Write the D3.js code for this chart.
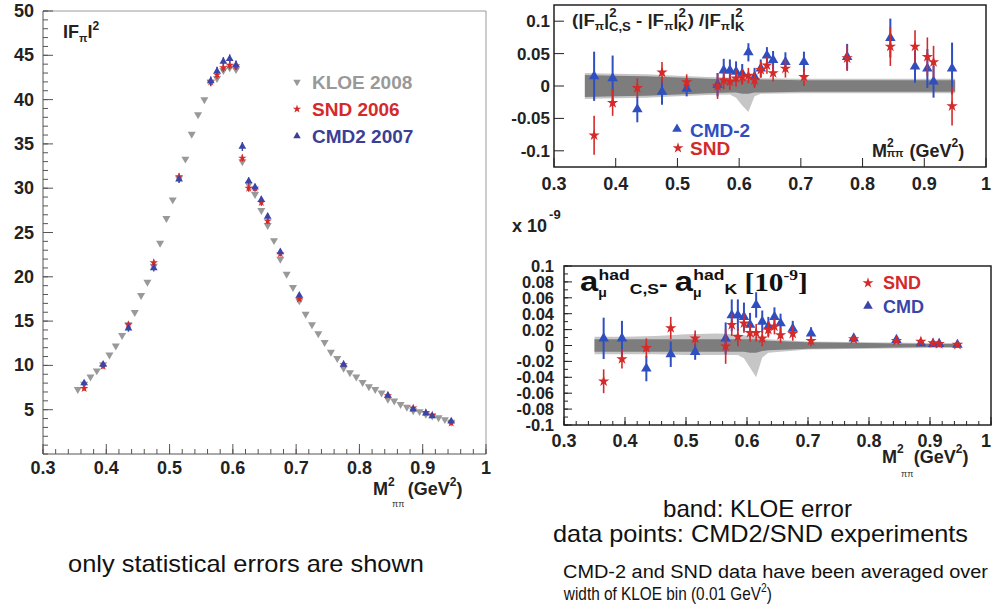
<!DOCTYPE html>
<html><head><meta charset="utf-8">
<script src="https://cdn.jsdelivr.net/npm/d3@7"></script>
<style>body{margin:0;background:#fff}svg{display:block}text{font-family:"Liberation Sans",Arial,sans-serif}</style>
</head><body><svg id="c" width="992" height="610"></svg>
<script>
// ---------- DATA ----------
const kloeM = [0.355,0.365,0.375,0.385,0.395,0.405,0.415,0.425,0.435,0.445,0.455,0.465,0.475,0.485,0.495,0.505,0.515,0.525,0.535,0.545,0.555,0.565,0.575,0.585,0.595,0.605,0.615,0.625,0.635,0.645,0.655,0.665,0.675,0.685,0.695,0.705,0.715,0.725,0.735,0.745,0.755,0.765,0.775,0.785,0.795,0.805,0.815,0.825,0.835,0.845,0.855,0.865,0.875,0.885,0.895,0.905,0.915,0.925,0.935,0.945];
const kloeF2 = [7.3,7.9,8.7,9.4,10.1,11.2,12.2,13.4,14.6,16.0,17.9,19.4,21.2,23.8,26.6,28.7,31.1,33.3,36.1,38.3,40.0,42.0,42.4,43.3,43.6,43.4,33.0,30.4,29.3,27.5,25.8,24.1,22.0,20.3,18.8,17.3,15.8,14.6,13.6,12.6,11.5,10.8,9.7,9.2,8.7,8.1,7.6,7.3,6.9,6.2,6.0,5.6,5.3,4.9,4.8,4.5,4.3,4.1,3.9,3.6];

const binM = [0.365,0.395,0.435,0.475,0.515,0.565,0.575,0.585,0.595,0.605,0.615,0.625,0.635,0.645,0.655,0.675,0.705,0.775,0.845,0.885,0.905,0.915,0.945];
const cmdF2 = [8.0,10.1,14.2,21.0,31.0,42.1,43.2,44.3,44.6,43.9,34.7,30.8,30.1,28.7,26.8,22.8,17.9,10.1,6.6,5.05,4.6,4.3,3.7];
const cmdF2Err = [0.3,0.3,0.4,0.4,0.4,0.5,0.5,0.5,0.5,0.5,0.5,0.4,0.4,0.4,0.4,0.3,0.3,0.2,0.15,0.1,0.1,0.1,0.1];
const sndF2 = [7.4,9.9,14.6,21.6,31.3,42.0,42.8,43.6,43.9,43.8,33.4,30.0,30.0,28.4,26.3,22.6,17.5,10.1,6.6,5.2,4.7,4.4,3.5];
const sndF2Err = [0.25,0.25,0.35,0.35,0.4,0.5,0.5,0.5,0.5,0.5,0.4,0.4,0.4,0.4,0.35,0.3,0.25,0.2,0.15,0.1,0.1,0.1,0.1];

const cmdRel = [0.015,0.012,-0.036,-0.009,-0.004,0.002,0.024,0.024,0.022,0.019,0.052,0.014,0.027,0.047,0.040,0.037,0.037,0.045,0.074,0.030,0.027,0.007,0.027];
const cmdRelErr = [0.038,0.035,0.020,0.020,0.012,0.018,0.018,0.017,0.016,0.015,0.014,0.014,0.014,0.013,0.014,0.015,0.016,0.020,0.030,0.025,0.030,0.025,0.040];
const sndRel = [-0.076,-0.026,-0.003,0.021,0.006,0.000,0.009,0.007,0.012,0.014,0.016,0.009,0.025,0.032,0.020,0.027,0.014,0.043,0.061,0.061,0.045,0.037,-0.031];
const sndRelErr = [0.030,0.020,0.015,0.016,0.012,0.020,0.014,0.013,0.013,0.012,0.012,0.012,0.012,0.013,0.013,0.014,0.014,0.020,0.030,0.025,0.030,0.025,0.030];

const cmdAmu = [0.009,0.009,-0.029,-0.011,-0.008,0.009,0.038,0.038,0.036,0.026,0.051,0.030,0.024,0.036,0.028,0.021,0.015,0.009,0.007,0.003,0.002,0.002,0.001];
const cmdAmuErr = [0.026,0.022,0.016,0.016,0.010,0.020,0.020,0.020,0.018,0.015,0.016,0.014,0.012,0.012,0.012,0.010,0.008,0.004,0.003,0.002,0.002,0.002,0.002];
const sndAmu = [-0.045,-0.017,-0.003,0.022,0.009,-0.001,0.026,0.011,0.028,0.016,0.016,0.009,0.020,0.024,0.013,0.015,0.006,0.008,0.006,0.005,0.003,0.002,0.001];
const sndAmuErr = [0.015,0.012,0.012,0.014,0.010,0.022,0.014,0.012,0.012,0.011,0.011,0.010,0.010,0.010,0.010,0.009,0.007,0.004,0.003,0.002,0.002,0.002,0.002];

// KLOE error bands
const bandM = [0.35,0.40,0.45,0.50,0.55,0.585,0.595,0.605,0.615,0.625,0.635,0.70,0.80,0.90,0.95];
const relDarkLo = [-0.017,-0.016,-0.015,-0.013,-0.011,-0.010,-0.010,-0.012,-0.012,-0.010,-0.010,-0.009,-0.009,-0.009,-0.009];
const relDarkHi = [0.017,0.016,0.015,0.013,0.011,0.010,0.010,0.010,0.010,0.010,0.010,0.009,0.009,0.009,0.009];
const relLightLo = [-0.020,-0.019,-0.018,-0.016,-0.014,-0.013,-0.018,-0.030,-0.040,-0.016,-0.012,-0.011,-0.011,-0.011,-0.011];
const relLightHi = [0.020,0.019,0.018,0.016,0.014,0.013,0.013,0.014,0.014,0.013,0.012,0.011,0.011,0.011,0.011];
const amuDarkLo = [-0.008,-0.008,-0.008,-0.008,-0.008,-0.008,-0.008,-0.009,-0.009,-0.007,-0.006,-0.004,-0.003,-0.002,-0.002];
const amuDarkHi = [0.008,0.008,0.008,0.008,0.008,0.008,0.008,0.008,0.008,0.007,0.006,0.004,0.003,0.002,0.002];
const amuLightLo = [-0.011,-0.011,-0.011,-0.012,-0.012,-0.012,-0.016,-0.028,-0.040,-0.015,-0.009,-0.005,-0.004,-0.003,-0.003];
const amuLightHi = [0.011,0.011,0.012,0.014,0.015,0.014,0.013,0.012,0.011,0.009,0.008,0.005,0.004,0.003,0.003];

const xTicks = [0.3,0.4,0.5,0.6,0.7,0.8,0.9,1];
const xTickLabels = ["0.3","0.4","0.5","0.6","0.7","0.8","0.9","1"];
const leftYTicks = [5,10,15,20,25,30,35,40,45,50];
const relYTicks = [-0.1,-0.05,0,0.05,0.1];
const relYLabels = ["-0.1","-0.05","0","0.05","0.1"];
const amuYTicks = [-0.1,-0.08,-0.06,-0.04,-0.02,0,0.02,0.04,0.06,0.08,0.1];
const amuYLabels = ["-0.1","-0.08","-0.06","-0.04","-0.02","0","0.02","0.04","0.06","0.08","0.1"];

// ---------- DRAW ----------
const svg = d3.select("#c");
const C_KLOE = "#999999", C_SND = "#d42a2a", C_CMD = "#3a45a8", C_CMD2 = "#2f4fc0";
const triUp = d3.symbol().type(d3.symbolTriangle);
const star = d3.symbol().type(d3.symbolStar);

function rich(g, x, y, segs, attrs) {
  const t = g.append("text").attr("x", x).attr("y", y);
  for (const k in (attrs||{})) t.attr(k, attrs[k]);
  let prev = 0;
  segs.forEach(s => {
    const b = s.b || 0;
    const ts = t.append("tspan").text(s.t).attr("font-size", s.s).attr("dy", -(b - prev));
    if (s.dx) ts.attr("dx", s.dx);
    if (s.ff) ts.attr("font-family", s.ff);
    if (s.fw) ts.attr("font-weight", s.fw);
    prev = b;
  });
  return t;
}
function fitX(t, x0, x1) {
  const bb = t.node().getBBox();
  const k = (x1 - x0) / bb.width;
  t.attr("transform", `translate(${x0},0) scale(${k},1) translate(${-bb.x},0)`);
}
function frame(g, x, y, stroke, sw) {
  g.append("rect").attr("x", x.range()[0]).attr("y", y.range()[1])
    .attr("width", x.range()[1]-x.range()[0]).attr("height", y.range()[0]-y.range()[1])
    .attr("fill","none").attr("stroke", stroke).attr("stroke-width", sw);
}
function ticksX(g, x, y, vals, len, col) {
  g.selectAll(null).data(vals).join("line")
    .attr("x1", d=>x(d)).attr("x2", d=>x(d)).attr("y1", y.range()[0]).attr("y2", y.range()[0]-len)
    .attr("stroke", col).attr("stroke-width", 1);
}
function ticksY(g, x, y, vals, len, col) {
  g.selectAll(null).data(vals).join("line")
    .attr("y1", d=>y(d)).attr("y2", d=>y(d)).attr("x1", x.range()[0]).attr("x2", x.range()[0]+len)
    .attr("stroke", col).attr("stroke-width", 1);
}
function errBars(g, x, y, ms, vs, es, col, w) {
  g.selectAll(null).data(ms).join("line")
    .attr("x1", (d)=>x(d)).attr("x2", d=>x(d))
    .attr("y1", (d,i)=>y(vs[i]-es[i])).attr("y2", (d,i)=>y(vs[i]+es[i]))
    .attr("stroke", col).attr("stroke-width", w);
}
function marks(g, x, y, ms, vs, sym, size, col, rot) {
  g.selectAll(null).data(ms).join("path")
    .attr("d", sym.size(size)())
    .attr("transform", (d,i)=>`translate(${x(d)},${y(vs[i])})` + (rot?` rotate(${rot})`:""))
    .attr("fill", col);
}
function bands(g, x, y, lo1, hi1, lo2, hi2) {
  const a = d3.area().x((d)=>x(d.m)).y0(d=>y(d.lo)).y1(d=>y(d.hi));
  g.append("path").attr("d", a(bandM.map((m,i)=>({m, lo:lo2[i], hi:hi2[i]})))).attr("fill","#c6c6c6");
  g.append("path").attr("d", a(bandM.map((m,i)=>({m, lo:lo1[i], hi:hi1[i]})))).attr("fill","#7d7d7d");
}

// ===== LEFT PANEL =====
{
  const g = svg.append("g");
  const x = d3.scaleLinear().domain([0.3,1]).range([43,486]);
  const y = d3.scaleLinear().domain([0,50]).range([454,11]);
  g.append("line").attr("x1",43).attr("x2",486).attr("y1",11).attr("y2",11).attr("stroke","#9a9a9a");
  g.append("line").attr("x1",486).attr("x2",486).attr("y1",11).attr("y2",454).attr("stroke","#9a9a9a");
  g.append("line").attr("x1",43).attr("x2",43).attr("y1",11).attr("y2",454).attr("stroke","#555");
  g.append("line").attr("x1",43).attr("x2",486).attr("y1",454).attr("y2",454).attr("stroke","#555");
  ticksY(g, x, y, d3.range(0,51,1), 5, "#555");
  ticksY(g, x, y, leftYTicks, 10, "#555");
  ticksX(g, x, y, d3.range(0.3,1.001,0.02), 5, "#555");
  ticksX(g, x, y, xTicks, 10, "#555");
  g.selectAll(null).data(leftYTicks).join("text").attr("x", 34).attr("y", d=>y(d)+6)
    .attr("text-anchor","end").attr("font-size",18).attr("font-weight","bold").attr("fill","#222").text(d=>d);
  g.selectAll(null).data(xTicks).join("text").attr("x", d=>x(d)).attr("y", 474)
    .attr("text-anchor","middle").attr("font-size",18).attr("font-weight","bold").attr("fill","#222").text((d,i)=>xTickLabels[i]);
  rich(g, 63, 38, [{t:"IF",s:18},{t:"π",s:11,b:-4},{t:"I",s:18},{t:"2",s:12,b:8}], {"font-weight":"bold","fill":"#222"});
  rich(g, 373, 495, [{t:"M",s:18},{t:"2",s:12,b:9},{t:"(GeV",s:18,dx:13},{t:"2",s:12,b:9},{t:")",s:18}], {"font-weight":"bold","fill":"#222"});
  g.append("text").attr("x",392).attr("y",507).attr("font-size",9).attr("fill","#333").text("ππ");

  marks(g, x, y, kloeM, kloeF2, triUp, 28, C_KLOE, 180);
  errBars(g, x, y, binM, sndF2, sndF2Err, C_SND, 1.4);
  errBars(g, x, y, binM, cmdF2, cmdF2Err, C_CMD, 1.4);
  marks(g, x, y, binM, sndF2, star, 22, C_SND);
  marks(g, x, y, binM, cmdF2, triUp, 26, C_CMD);

  const lg = [{t:"KLOE 2008",c:C_KLOE,y:89,k:"k"},{t:"SND 2006",c:C_SND,y:116,k:"s"},{t:"CMD2 2007",c:"#3a3f95",y:143,k:"c"}];
  lg.forEach(l=>{
    g.append("text").attr("x",312).attr("y",l.y).attr("font-size",19).attr("font-weight","bold").attr("fill",l.c).text(l.t);
    const sym = l.k==="s"? star.size(22)() : triUp.size(24)();
    g.append("path").attr("d",sym).attr("fill",l.c).attr("transform",`translate(297,${l.y-7})`+(l.k==="k"?" rotate(180)":""));
  });
  g.append("text").attr("x",68).attr("y",572).attr("font-size",24).attr("fill","#111")
    .attr("textLength",356).attr("lengthAdjust","spacingAndGlyphs").text("only statistical errors are shown");
}

// ===== TOP RIGHT =====
{
  const g = svg.append("g");
  const x = d3.scaleLinear().domain([0.3,1]).range([554,986]);
  const y = d3.scaleLinear().domain([-0.125,0.125]).range([167,5]);
  bands(g, x, y, relDarkLo, relDarkHi, relLightLo, relLightHi);
  frame(g, x, y, "#222", 1.5);
  ticksY(g, x, y, relYTicks, 10, "#222");
  ticksX(g, x, y, xTicks, 9, "#222");
  g.selectAll(null).data(relYTicks).join("text").attr("x", 550).attr("y", d=>y(d)+6)
    .attr("text-anchor","end").attr("font-size",17).attr("font-weight","bold").attr("fill","#222").text((d,i)=>relYLabels[i]);
  g.selectAll(null).data(xTicks).join("text").attr("x", d=>x(d)).attr("y", 190)
    .attr("text-anchor","middle").attr("font-size",18).attr("font-weight","bold").attr("fill","#222").text((d,i)=>xTickLabels[i]);
  const tt = rich(g, 572, 26, [
    {t:"(|F",s:17},{t:"π",s:11,b:-4},{t:"|",s:17},{t:"2",s:12,b:9},{t:"C,S",s:12,b:-5,dx:-7},
    {t:" - |F",s:17},{t:"π",s:11,b:-4},{t:"|",s:17},{t:"2",s:12,b:9},{t:"K",s:12,b:-5,dx:-7},
    {t:") /|F",s:17},{t:"π",s:11,b:-4},{t:"|",s:17},{t:"2",s:12,b:9},{t:"K",s:12,b:-5,dx:-7}
  ], {"font-weight":"bold","fill":"#222"});
  fitX(tt, 572, 745);
  rich(g, 872, 157, [{t:"M",s:18},{t:"2",s:12,b:10},{t:"ππ",s:11,b:0,dx:-7},{t:"(GeV",s:18,dx:6},{t:"2",s:12,b:10},{t:")",s:18}], {"font-weight":"bold","fill":"#222"});

  errBars(g, x, y, binM, cmdRel, cmdRelErr, C_CMD2, 2);
  marks(g, x, y, binM, cmdRel, triUp, 48, C_CMD2);
  errBars(g, x, y, binM, sndRel, sndRelErr, C_SND, 1.6);
  marks(g, x, y, binM, sndRel, star, 40, C_SND);

  g.append("text").attr("x",690).attr("y",137).attr("font-size",19).attr("font-weight","bold").attr("fill",C_CMD2).text("CMD-2");
  g.append("text").attr("x",690).attr("y",155).attr("font-size",19).attr("font-weight","bold").attr("fill",C_SND).text("SND");
  g.append("path").attr("d",triUp.size(40)()).attr("fill",C_CMD2).attr("transform","translate(677,129)");
  g.append("path").attr("d",star.size(36)()).attr("fill",C_SND).attr("transform","translate(678,148)");
}

// ===== BOTTOM RIGHT =====
{
  const g = svg.append("g");
  const x = d3.scaleLinear().domain([0.3,1]).range([564,991]);
  const y = d3.scaleLinear().domain([-0.1,0.1]).range([425,266]);
  bands(g, x, y, amuDarkLo, amuDarkHi, amuLightLo, amuLightHi);
  frame(g, x, y, "#222", 1.5);
  ticksY(g, x, y, d3.range(-0.1,0.1001,0.01), 4, "#222");
  ticksY(g, x, y, amuYTicks, 8, "#222");
  ticksX(g, x, y, d3.range(0.3,1.001,0.02), 4, "#222");
  ticksX(g, x, y, xTicks, 8, "#222");
  g.selectAll(null).data(amuYTicks).join("text").attr("x", 554).attr("y", d=>y(d)+6)
    .attr("text-anchor","end").attr("font-size",16.5).attr("font-weight","bold").attr("fill","#222").text((d,i)=>amuYLabels[i]);
  g.selectAll(null).data(xTicks).join("text").attr("x", d=>Math.min(x(d), 986)).attr("y", 447)
    .attr("text-anchor","middle").attr("font-size",18).attr("font-weight","bold").attr("fill","#222").text((d,i)=>xTickLabels[i]);
  rich(g, 512, 232, [{t:"x 10",s:18},{t:"-9",s:13,b:13,dx:2}], {"font-weight":"bold","fill":"#222"});
  const tt = rich(g, 580, 291, [
    {t:"a",s:28},{t:"μ",s:12,b:-6},{t:"had",s:15,b:11,dx:-7},{t:"C,S",s:15,b:-3},{t:"- ",s:22,b:0},
    {t:"a",s:28},{t:"μ",s:12,b:-6},{t:"had",s:15,b:11,dx:-7},{t:"K",s:15,b:-3},
    {t:" [10",s:25,b:0,ff:"Liberation Serif"},{t:"-9",s:15,b:11,ff:"Liberation Serif"},{t:"]",s:25,b:0,ff:"Liberation Serif"}
  ], {"font-weight":"bold","fill":"#111"});
  fitX(tt, 580, 808);
  rich(g, 882, 463, [{t:"M",s:18},{t:"2",s:12,b:10},{t:"(GeV",s:18,dx:10},{t:"2",s:12,b:10},{t:")",s:18}], {"font-weight":"bold","fill":"#222"});
  g.append("text").attr("x",901).attr("y",477).attr("font-size",9).attr("fill","#333").text("ππ");

  errBars(g, x, y, binM, cmdAmu, cmdAmuErr, C_CMD2, 2);
  marks(g, x, y, binM, cmdAmu, triUp, 48, C_CMD2);
  errBars(g, x, y, binM, sndAmu, sndAmuErr, C_SND, 1.6);
  marks(g, x, y, binM, sndAmu, star, 40, C_SND);

  g.append("text").attr("x",883).attr("y",289).attr("font-size",18).attr("font-weight","bold").attr("fill",C_SND).text("SND");
  g.append("text").attr("x",883).attr("y",313).attr("font-size",18).attr("font-weight","bold").attr("fill",C_CMD).text("CMD");
  g.append("path").attr("d",star.size(36)()).attr("fill",C_SND).attr("transform","translate(868,283)");
  g.append("path").attr("d",triUp.size(40)()).attr("fill",C_CMD).attr("transform","translate(868,306)");
}

// ===== NOTES =====
svg.append("text").attr("x",663).attr("y",517).attr("font-size",24).attr("fill","#111")
  .attr("textLength",189).attr("lengthAdjust","spacingAndGlyphs").text("band: KLOE error");
svg.append("text").attr("x",553).attr("y",542).attr("font-size",24).attr("fill","#111")
  .attr("textLength",415).attr("lengthAdjust","spacingAndGlyphs").text("data points: CMD2/SND experiments");
svg.append("text").attr("x",563).attr("y",578).attr("font-size",18).attr("fill","#111")
  .attr("textLength",425).attr("lengthAdjust","spacingAndGlyphs").text("CMD-2 and SND data have been averaged over");
const nt = rich(svg, 563, 600, [{t:"width of KLOE bin (0.01 GeV",s:18},{t:"2",s:12,b:8},{t:")",s:18,b:0}], {"fill":"#111"});
fitX(nt, 563, 772);
</script></body></html>
